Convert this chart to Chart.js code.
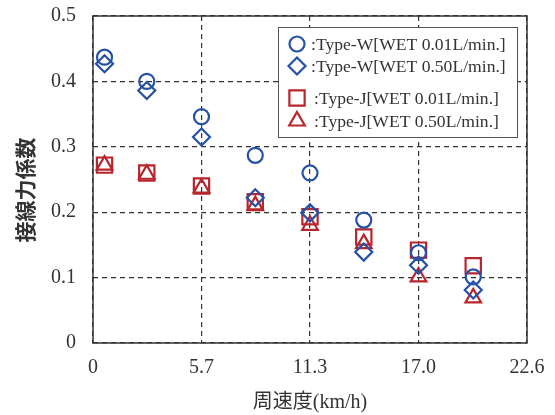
<!DOCTYPE html>
<html>
<head>
<meta charset="utf-8">
<script src="https://cdn.jsdelivr.net/npm/chart.js@4"></script>
<style>
  html, body { margin: 0; padding: 0; background: #fff; }
  #wrap { width: 555px; height: 415px; }
</style>
</head>
<body>
<div id="wrap"><canvas id="forceChart" width="555" height="415"></canvas></div>
<script>
// tangential force coefficient vs peripheral speed

const xTicks = [0, 5.65, 11.3, 16.95, 22.6];
const xTickLabels = ['0', '5.7', '11.3', '17.0', '22.6'];

const speed = [0.6, 2.8, 5.65, 8.45, 11.3, 14.1, 16.95, 19.8];

const typeW001 = [0.437, 0.400, 0.346, 0.287, 0.260, 0.188, 0.138, 0.101];
const typeW050 = [0.427, 0.386, 0.315, 0.222, 0.199, 0.139, 0.119, 0.081];
const typeJ001 = [0.272, 0.260, 0.240, 0.216, 0.193, 0.162, 0.142, 0.118];
const typeJ050 = [0.272, 0.258, 0.237, 0.210, 0.180, 0.152, 0.101, 0.069];

const seriesLabels = [
    ':Type-W[WET 0.01L/min.]',
    ':Type-W[WET 0.50L/min.]',
    ':Type-J[WET 0.01L/min.]',
    ':Type-J[WET 0.50L/min.]'
];

const yTitle = '接線力係数';
const xTitle = '周速度(km/h)';

const blue = '#2451a6';
const red = '#b8262d';

function toPoints(values) {
    return values.map((v, i) => ({ x: speed[i], y: v }));
}

function makeSet(label, values, color, style, radius) {
    return {
        label: label,
        data: toPoints(values),
        borderColor: color,
        backgroundColor: 'rgba(0,0,0,0)',
        pointStyle: style,
        pointRadius: radius,
        pointBorderWidth: 2.2,
        showLine: false
    };
}

const datasets = [
    makeSet(seriesLabels[0], typeW001, blue, 'circle', 7.5),
    makeSet(seriesLabels[1], typeW050, blue, 'rectRot', 8.5),
    makeSet(seriesLabels[2], typeJ001, red, 'rect', 10.8),
    makeSet(seriesLabels[3], typeJ050, red, 'triangle', 9)
];

// frame around plot, legend box, y title
const framePlugin = {
    id: 'frame',
    afterDatasetsDraw(chart) {
        const a = chart.chartArea;
        const ctx = chart.ctx;
        ctx.save();
        ctx.strokeStyle = '#333';
        ctx.lineWidth = 1.5;
        ctx.setLineDash([]);
        ctx.strokeRect(a.left, a.top, a.right - a.left, a.bottom - a.top);

        // legend
        const bx = 278, by = 27, bw = 239, bh = 110;
        ctx.fillStyle = '#fff';
        ctx.fillRect(bx, by, bw, bh);
        ctx.strokeStyle = '#555';
        ctx.lineWidth = 1;
        ctx.strokeRect(bx + 0.5, by + 0.5, bw, bh);

        const rows = [44, 66, 98, 121];
        ctx.font = '17.6px "Liberation Serif", serif';
        ctx.textBaseline = 'middle';
        ctx.textAlign = 'left';
        datasets.forEach((ds, i) => {
            ctx.strokeStyle = ds.borderColor;
            ctx.fillStyle = '#fff';
            ctx.lineWidth = 2.2;
            Chart.helpers.drawPoint(ctx, {
                pointStyle: ds.pointStyle,
                radius: ds.pointRadius,
                borderWidth: 2.2
            }, 297, rows[i]);
            ctx.fillStyle = '#333';
            ctx.fillText(ds.label, i < 2 ? 311 : 314, rows[i] + 1);
        });

        // y axis title
        ctx.translate(25, 190);
        ctx.rotate(-Math.PI / 2);
        ctx.font = 'bold 21px "Noto Sans CJK JP", sans-serif';
        ctx.textAlign = 'center';
        ctx.fillStyle = '#333';
        ctx.fillText(yTitle, 0, 0);
        ctx.restore();
    }
};

new Chart(document.getElementById('forceChart'), {
    type: 'scatter',
    data: { datasets: datasets },
    options: {
        responsive: false,
        animation: false,
        layout: { padding: { top: 16, right: 28, left: 0, bottom: 0 } },
        plugins: {
            legend: { display: false },
            tooltip: { enabled: false }
        },
        scales: {
            x: {
                type: 'linear',
                min: 0,
                max: 22.6,
                afterBuildTicks: (scale) => {
                    scale.ticks = xTicks.map(v => ({ value: v }));
                },
                afterFit: (scale) => {
                    scale.height = 72;
                    scale.paddingLeft = 0;
                    scale.paddingRight = 0;
                },
                ticks: {
                    callback: (v, i) => xTickLabels[i],
                    color: '#333',
                    font: { family: '"Liberation Serif", serif', size: 20 },
                    padding: 13,
                    maxRotation: 0
                },
                grid: { color: '#333', lineWidth: 1.2, drawTicks: false },
                border: { display: false, dash: [5, 4] },
                title: {
                    display: true,
                    text: xTitle,
                    color: '#333',
                    font: { family: '"Liberation Serif", "Noto Sans CJK JP", serif', size: 20 },
                    padding: { top: 2, bottom: 0 }
                }
            },
            y: {
                min: 0,
                max: 0.5,
                afterFit: (scale) => {
                    scale.width = 93;
                    scale.paddingTop = 0;
                    scale.paddingBottom = 0;
                },
                ticks: {
                    stepSize: 0.1,
                    callback: (v) => v === 0 ? '0' : v.toFixed(1),
                    color: '#333',
                    font: { family: '"Liberation Serif", serif', size: 20 },
                    padding: 17
                },
                grid: { color: '#333', lineWidth: 1.2, drawTicks: false },
                border: { display: false, dash: [5, 4] },
                title: { display: false }
            }
        }
    },
    plugins: [framePlugin]
});
</script>
</body>
</html>
